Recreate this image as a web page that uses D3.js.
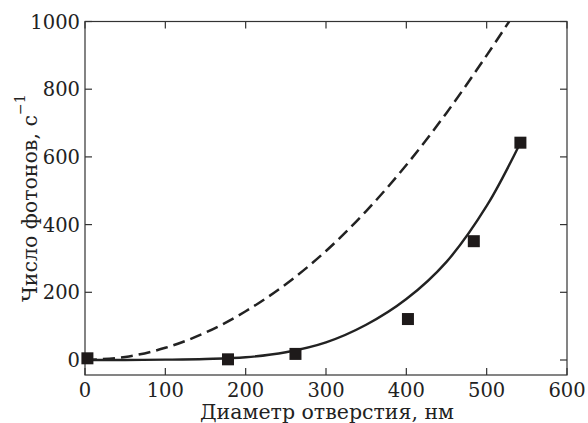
<!DOCTYPE html>
<html><head><meta charset="utf-8">
<script src="https://cdn.jsdelivr.net/npm/d3@7"></script>
<style>body{margin:0;background:#fff}svg{display:block}</style>
</head><body><svg id="c" width="588" height="423"></svg>
<script>
// measured data points (diameter nm, photons/s)
const pointX = [3, 178, 262, 402, 484, 542];
const pointY = [5, 2, 18, 121, 351, 642];
// solid fit curve
const solidX = [0, 50, 100, 150, 200, 250, 300, 350, 400, 450, 500, 542];
const solidY = [0, 0, 1, 3, 8, 23, 52, 104, 180, 290, 455, 642];
// dashed curve
const dashX = [0, 50, 100, 150, 200, 250, 300, 350, 400, 450, 500, 528];
const dashY = [0, 9, 36, 81, 144, 224, 322, 440, 576, 730, 900, 1000];
const xTicks = [0, 100, 200, 300, 400, 500, 600];
const yTicks = [0, 200, 400, 600, 800, 1000];

const FONT = "'DejaVu Serif', 'Liberation Serif', 'Noto Serif', serif";
const svg = d3.select("#c");
const L = 85, R = 567, T = 21.5, B = 375;
const x = d3.scaleLinear().domain([0, 600]).range([L, R]);
const y = d3.scaleLinear().domain([0, 1000]).range([360, T]);
const stroke = "#222";
const txt = "#222";

svg.append("rect").attr("x", L).attr("y", T).attr("width", R - L).attr("height", B - T)
  .attr("fill", "none").attr("stroke", "#333").attr("stroke-width", 1.2);

const tl = 7;
const gx = svg.append("g");
xTicks.forEach(t => {
  gx.append("line").attr("x1", x(t)).attr("x2", x(t)).attr("y1", B).attr("y2", B - tl).attr("stroke", "#333").attr("stroke-width", 1.2);
  gx.append("line").attr("x1", x(t)).attr("x2", x(t)).attr("y1", T).attr("y2", T + tl).attr("stroke", "#333").attr("stroke-width", 1.2);
  gx.append("text").attr("x", x(t)).attr("y", 397).attr("text-anchor", "middle")
    .attr("font-family", FONT).attr("font-size", 19.5).attr("fill", txt).text(t);
});
const gy = svg.append("g");
yTicks.forEach(t => {
  gy.append("line").attr("x1", L).attr("x2", L + tl).attr("y1", y(t)).attr("y2", y(t)).attr("stroke", "#333").attr("stroke-width", 1.2);
  gy.append("line").attr("x1", R).attr("x2", R - tl).attr("y1", y(t)).attr("y2", y(t)).attr("stroke", "#333").attr("stroke-width", 1.2);
  gy.append("text").attr("x", 80).attr("y", y(t) + 7).attr("text-anchor", "end")
    .attr("font-family", FONT).attr("font-size", 19.5).attr("fill", txt).text(t);
});

svg.append("defs").append("clipPath").attr("id", "clip").append("rect")
  .attr("x", L).attr("y", T).attr("width", R - L).attr("height", B - T);

const line = d3.line().x(d => x(d[0])).y(d => y(d[1])).curve(d3.curveCatmullRom);
svg.append("path").attr("clip-path", "url(#clip)")
  .attr("d", line(dashX.map((v, i) => [v, dashY[i]])))
  .attr("fill", "none").attr("stroke", stroke).attr("stroke-width", 2.5).attr("stroke-dasharray", "12,6");
svg.append("path").attr("clip-path", "url(#clip)")
  .attr("d", line(solidX.map((v, i) => [v, solidY[i]])))
  .attr("fill", "none").attr("stroke", stroke).attr("stroke-width", 2.4);

const s = 12;
svg.append("g").selectAll("rect").data(pointX.map((v, i) => [v, pointY[i]])).join("rect")
  .attr("x", d => x(d[0]) - s / 2).attr("y", d => y(d[1]) - s / 2)
  .attr("width", s).attr("height", s).attr("fill", "#1e1a1a");

svg.append("text").attr("x", (L + R) / 2 + 1).attr("y", 419).attr("text-anchor", "middle")
  .attr("font-family", FONT).attr("font-size", 20.5).attr("fill", txt).text("Диаметр отверстия, нм");

const yt = svg.append("text").attr("transform", "translate(37," + ((T + B) / 2) + ") rotate(-90)")
  .attr("text-anchor", "middle").attr("font-family", FONT).attr("font-size", 20.5).attr("fill", txt);
yt.append("tspan").text("Число фотонов, с");
yt.append("tspan").attr("dy", -12).attr("font-size", 14).text("−1");
</script></body></html>
